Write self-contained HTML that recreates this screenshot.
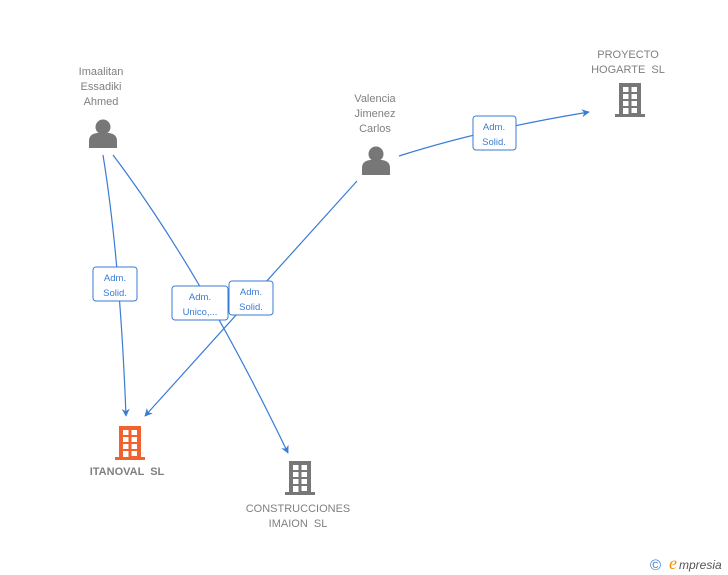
<!DOCTYPE html>
<html><head><meta charset="utf-8"><style>
html,body{margin:0;padding:0;background:#fff;}
svg{display:block;font-family:"Liberation Sans",Arial,sans-serif;}
.n{fill:#808080;font-size:11px;text-anchor:middle;white-space:pre;}
.b{fill:#808080;font-size:11px;text-anchor:middle;font-weight:bold;white-space:pre;}
.l{fill:#3a7bd5;font-size:9.5px;text-anchor:middle;}
.e{stroke:#3a7bd5;stroke-width:1.2;fill:none;}
.bx{fill:#fff;stroke:#3a7bd5;stroke-width:1;}
</style></head><body>
<svg width="728" height="575" viewBox="0 0 728 575">
<defs>
<g id="bld">
<rect x="0" y="31" width="30" height="3"/>
<rect x="4" y="0" width="22" height="32"/>
<g fill="#fff">
<rect x="8" y="4" width="5.5" height="5"/><rect x="16.5" y="4" width="5.5" height="5"/>
<rect x="8" y="11" width="5.5" height="5"/><rect x="16.5" y="11" width="5.5" height="5"/>
<rect x="8" y="18" width="5.5" height="5"/><rect x="16.5" y="18" width="5.5" height="5"/>
<rect x="8" y="25" width="5.5" height="6"/><rect x="16.5" y="25" width="5.5" height="5"/>
</g>
</g>
<g id="per">
<circle cx="14" cy="8" r="7.5"/>
<path d="M0 29 L0 22 Q0 15 8 14 L20 14 Q28 15 28 22 L28 29 Z"/>
</g>
<marker id="ar" viewBox="0 0 10 10" refX="9" refY="5" markerWidth="8" markerHeight="8" orient="auto" markerUnits="userSpaceOnUse"><path d="M0 0 L10 5 L0 10 L3 5 Z" fill="#3a7bd5"/></marker>
</defs>

<path class="e" d="M103 155 Q120 260 126 416" marker-end="url(#ar)"/>
<path class="e" d="M113 155 Q200 270 288 453" marker-end="url(#ar)"/>
<path class="e" d="M357 181 L145 416" marker-end="url(#ar)"/>
<path class="e" d="M399 156 Q480 130 589 112" marker-end="url(#ar)"/>

<rect class="bx" x="93" y="267" width="44" height="34" rx="3"/>
<text class="l" x="115" y="281">Adm.</text><text class="l" x="115" y="296">Solid.</text>
<rect class="bx" x="172" y="286" width="56" height="34" rx="3"/>
<text class="l" x="200" y="300">Adm.</text><text class="l" x="200" y="315">Unico,...</text>
<rect class="bx" x="229" y="281" width="44" height="34" rx="3"/>
<text class="l" x="251" y="295">Adm.</text><text class="l" x="251" y="310">Solid.</text>
<rect class="bx" x="473" y="116" width="43" height="34" rx="3"/>
<text class="l" x="494" y="130">Adm.</text><text class="l" x="494" y="145">Solid.</text>

<text class="n" x="101" y="75">Imaalitan</text>
<text class="n" x="101" y="90">Essadiki</text>
<text class="n" x="101" y="105">Ahmed</text>
<use href="#per" x="89" y="119" fill="#777"/>

<text class="n" x="375" y="102">Valencia</text>
<text class="n" x="375" y="117">Jimenez</text>
<text class="n" x="375" y="132">Carlos</text>
<use href="#per" x="362" y="146" fill="#777"/>

<text class="n" x="628" y="58">PROYECTO</text>
<text class="n" x="628" y="73">HOGARTE  SL</text>
<use href="#bld" x="615" y="83" fill="#777"/>

<use href="#bld" x="115" y="426" fill="#f2622e"/>
<text class="b" x="127" y="475">ITANOVAL  SL</text>

<use href="#bld" x="285" y="461" fill="#777"/>
<text class="n" x="298" y="512">CONSTRUCCIONES</text>
<text class="n" x="298" y="527">IMAION  SL</text>

<text x="650" y="570" fill="#3a7bd5" font-size="15">©</text>
<text x="669" y="569" fill="#f39200" font-size="18" font-style="italic" font-family="Liberation Serif,serif">e</text>
<text x="679" y="569" fill="#555" font-size="12" font-style="italic">mpresia</text>
</svg>
</body></html>
